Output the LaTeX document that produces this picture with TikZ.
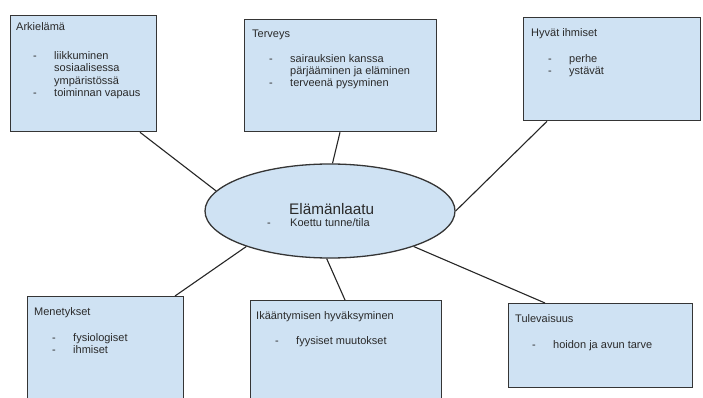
\documentclass[tikz,border=0pt]{standalone}
\usepackage{fontspec}
\setmainfont{Liberation Sans}
\usetikzlibrary{shapes.geometric,calc}
\definecolor{boxfill}{HTML}{CFE2F3}
\definecolor{boxline}{HTML}{353535}
\definecolor{txt}{HTML}{2A2A2A}
\newcommand\itemlist[1]{\begin{tabular}[t]{@{}p{21pt}@{}l@{}}#1\end{tabular}}
\tikzset{
  boxnode/.style={draw=boxline, fill=boxfill, line width=1.3pt, rectangle, anchor=north west, inner sep=0pt},
  ellnode/.style={draw=boxline, fill=boxfill, line width=1.3pt, ellipse, inner sep=0pt, minimum width=250pt, minimum height=94pt},
  titletext/.style={anchor=base west, inner sep=0pt, text=txt, font=\fontsize{11}{12.2}\selectfont},
  listtext/.style={anchor=base west, inner sep=0pt, text=txt, font=\fontsize{11}{12.2}\selectfont},
  connector/.style={draw=black!85, line width=1.1pt}
}
\begin{document}
\begin{tikzpicture}[x=1pt, y={(0pt,-1pt)}]
\useasboundingbox (0,0) rectangle (703,398);
\fill[white] (0,0) rectangle (703,398);

% boxes
\node[boxnode, minimum width=146pt, minimum height=116pt] (b1) at (10,15) {};
\node[boxnode, minimum width=192pt, minimum height=112pt] (b2) at (244,19) {};
\node[boxnode, minimum width=177pt, minimum height=103pt] (b3) at (523,17) {};
\node[boxnode, minimum width=156pt, minimum height=112pt] (b4) at (27,296) {};
\node[boxnode, minimum width=191pt, minimum height=110pt] (b5) at (250,300) {};
\node[boxnode, minimum width=184pt, minimum height=84pt] (b6) at (508,303) {};

% ellipse
\node[ellnode] (ell) at (330,211) {};

% connectors
\coordinate (c1) at ($(b1.south west)+(130,0)$);
\coordinate (c2) at ($(b2.south west)+(96,0)$);
\coordinate (c3) at ($(b3.south west)+(24,0)$);
\coordinate (c4) at ($(b4.north west)+(148,0)$);
\coordinate (c5) at ($(b5.north west)+(95,0)$);
\coordinate (c6) at ($(b6.north west)+(37,0)$);
\draw[connector] (c1) -- (ell.170.4);
\draw[connector] (c2) -- (ell.87.6);
\draw[connector] (c3) -- (ell.0);
\draw[connector] (c4) -- (ell.203.4);
\draw[connector] (c5) -- (ell.266);
\draw[connector] (c6) -- (ell.337.7);

% texts
\node[titletext] (t1) at (16,30.8) {Arkielämä};
\node[listtext] (l1) at (33,59.8) {\itemlist{- & liikkuminen\\ & sosiaalisessa\\ & ympäristössä\\ - & toiminnan vapaus}};

\node[titletext] (t2) at (252,37.5) {Terveys};
\node[listtext] (l2) at (269,62.5) {\itemlist{- & sairauksien kanssa\\ & pärjääminen ja eläminen\\ - & terveenä pysyminen}};

\node[titletext] (t3) at (531,36.8) {Hyvät ihmiset};
\node[listtext] (l3) at (548,62.5) {\itemlist{- & perhe\\ - & ystävät}};

\node[titletext] (t4) at (34,315.8) {Menetykset};
\node[listtext] (l4) at (52,341) {\itemlist{- & fysiologiset\\ - & ihmiset}};

\node[titletext] (t5) at (256,319) {Ikääntymisen hyväksyminen};
\node[listtext] (l5) at (275,344) {\itemlist{- & fyysiset muutokset}};

\node[titletext] (t6) at (515,322.5) {Tulevaisuus};
\node[listtext] (l6) at (532,348.5) {\itemlist{- & hoidon ja avun tarve}};

\node[anchor=base west, inner sep=0pt, text=txt, font=\fontsize{15.3}{18}\selectfont] (et) at (289,214) {Elämänlaatu};
\node[listtext] (el) at (267,226.8) {\begin{tabular}[t]{@{}p{23pt}@{}l@{}}- & Koettu tunne/tila\end{tabular}};
\end{tikzpicture}
\end{document}
